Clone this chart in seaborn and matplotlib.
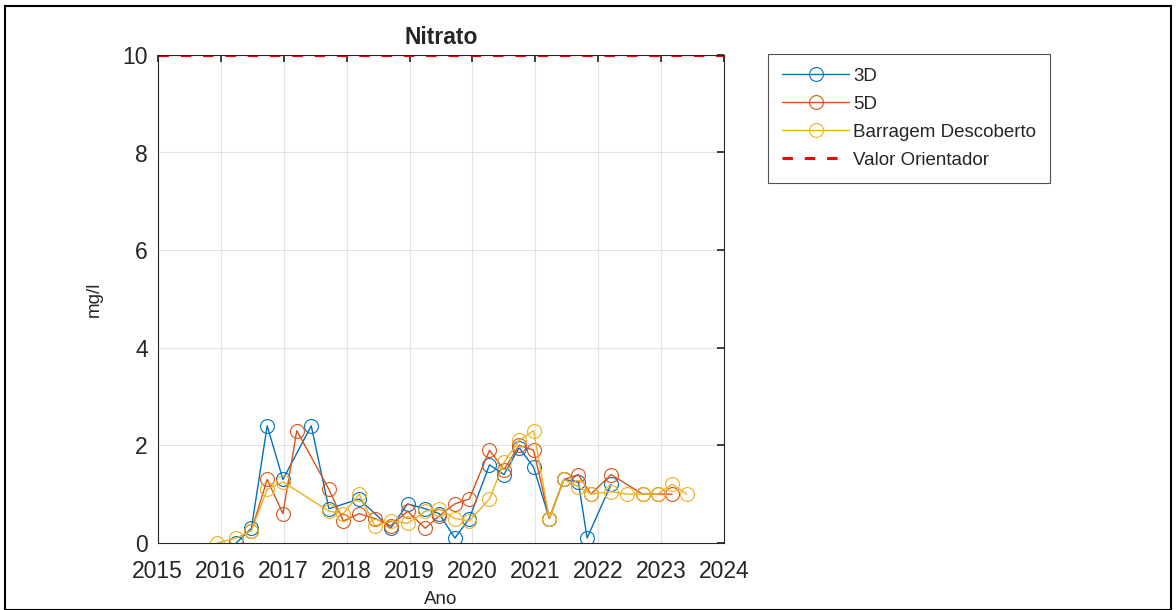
import matplotlib.pyplot as plt
import matplotlib.patches as mpatches
import seaborn as sns
import pandas as pd

sns.set_theme(style="whitegrid")
plt.rcParams['font.family'] = ['Liberation Sans', 'DejaVu Sans']

# Data (decimal years, mg/l)
x_3d = [2016.25, 2016.49, 2016.74, 2016.99, 2017.44, 2017.72, 2018.2, 2018.7, 2018.97,
        2019.25, 2019.47, 2019.72, 2019.95, 2020.27, 2020.5, 2020.74, 2020.97, 2021.22,
        2021.45, 2021.68, 2021.82, 2022.2]
y_3d = [0.0, 0.3, 2.4, 1.3, 2.4, 0.7, 0.9, 0.3, 0.8,
        0.7, 0.6, 0.1, 0.5, 1.6, 1.4, 1.95, 1.55, 0.5,
        1.3, 1.25, 0.1, 1.2]

x_5d = [2016.49, 2016.74, 2016.99, 2017.21, 2017.72, 2017.95, 2018.2, 2018.45, 2018.7,
        2018.97, 2019.25, 2019.47, 2019.72, 2019.95, 2020.27, 2020.5, 2020.74, 2020.97,
        2021.22, 2021.45, 2021.68, 2021.88, 2022.2, 2022.7, 2022.94, 2023.17]
y_5d = [0.25, 1.3, 0.6, 2.3, 1.1, 0.45, 0.6, 0.5, 0.35,
        0.65, 0.3, 0.55, 0.8, 0.9, 1.9, 1.5, 2.0, 1.9,
        0.5, 1.3, 1.4, 1.0, 1.4, 1.0, 1.0, 1.0]

x_bd = [2015.95, 2016.25, 2016.49, 2016.74, 2016.99, 2017.72, 2017.95, 2018.2, 2018.45,
        2018.7, 2018.97, 2019.25, 2019.47, 2019.72, 2019.95, 2020.27, 2020.5, 2020.74,
        2020.97, 2021.22, 2021.45, 2021.68, 2021.88, 2022.2, 2022.45, 2022.7, 2022.94,
        2023.17, 2023.4]
y_bd = [0.0, 0.1, 0.25, 1.1, 1.25, 0.65, 0.6, 1.0, 0.35,
        0.45, 0.4, 0.65, 0.7, 0.5, 0.45, 0.9, 1.65, 2.1,
        2.3, 0.5, 1.3, 1.15, 1.0, 1.05, 1.0, 1.0, 1.0,
        1.2, 1.0]

valor_orientador = 10
years = list(range(2015, 2025))

series = [("3D", x_3d, y_3d, "#0072BD"),
          ("5D", x_5d, y_5d, "#D95319"),
          ("Barragem Descoberto", x_bd, y_bd, "#EDB120")]

fig = plt.figure(figsize=(11.76, 6.10), dpi=100)
ax = fig.add_axes([0.134, 0.110, 0.482, 0.800])

for name, xs, ys, c in series:
    df = pd.DataFrame({"Ano": xs, "mg/l": ys})
    sns.lineplot(data=df, x="Ano", y="mg/l", ax=ax, sort=False, color=c, lw=1.0,
                 marker="o", markersize=10, markerfacecolor="none",
                 markeredgecolor=c, markeredgewidth=0.8, label=name)

ax.axhline(valor_orientador, color="#FF0000", ls=(0, (3.4, 3.9)), lw=2.2,
           label="Valor Orientador")

ax.set_xlim(2015, 2024)
ax.set_ylim(0, 10)
ax.set_xticks(years)
ax.set_xticklabels([str(y) for y in years])
ax.set_yticks([0, 2, 4, 6, 8, 10])
ax.set_facecolor("white")
ax.grid(True, color="#e3e3e3", lw=0.8)
for s in ax.spines.values():
    s.set_color("#262626")
    s.set_linewidth(0.8)
ax.tick_params(axis="both", direction="in", length=5, labelsize=16.5,
               colors="#262626", top=True, right=True, labeltop=False, labelright=False)
ax.tick_params(axis="x", pad=12)
ax.tick_params(axis="y", pad=7)
ax.set_xlabel("Ano", fontsize=13.5, color="#262626", labelpad=6)
ax.set_ylabel("mg/l", fontsize=13.5, color="#262626", labelpad=14)
ax.set_title("Nitrato", fontsize=16.5, fontweight="bold", pad=8)

handles, labels = ax.get_legend_handles_labels()
if ax.legend_:
    ax.legend_.remove()
leg = fig.legend(handles, labels, loc="upper left", bbox_to_anchor=(0.653, 0.912),
                 fontsize=13.5, frameon=True, fancybox=False, edgecolor="#262626",
                 handlelength=3.6, borderpad=0.75, labelspacing=0.58, handletextpad=0.2,
                 borderaxespad=0)
leg.get_frame().set_linewidth(0.8)

fig.patches.append(mpatches.Rectangle((0.004, 0.0), 0.992, 0.99, transform=fig.transFigure,
                                      fill=False, edgecolor="black", lw=1.5))

fig.savefig("out.png", dpi=100)
